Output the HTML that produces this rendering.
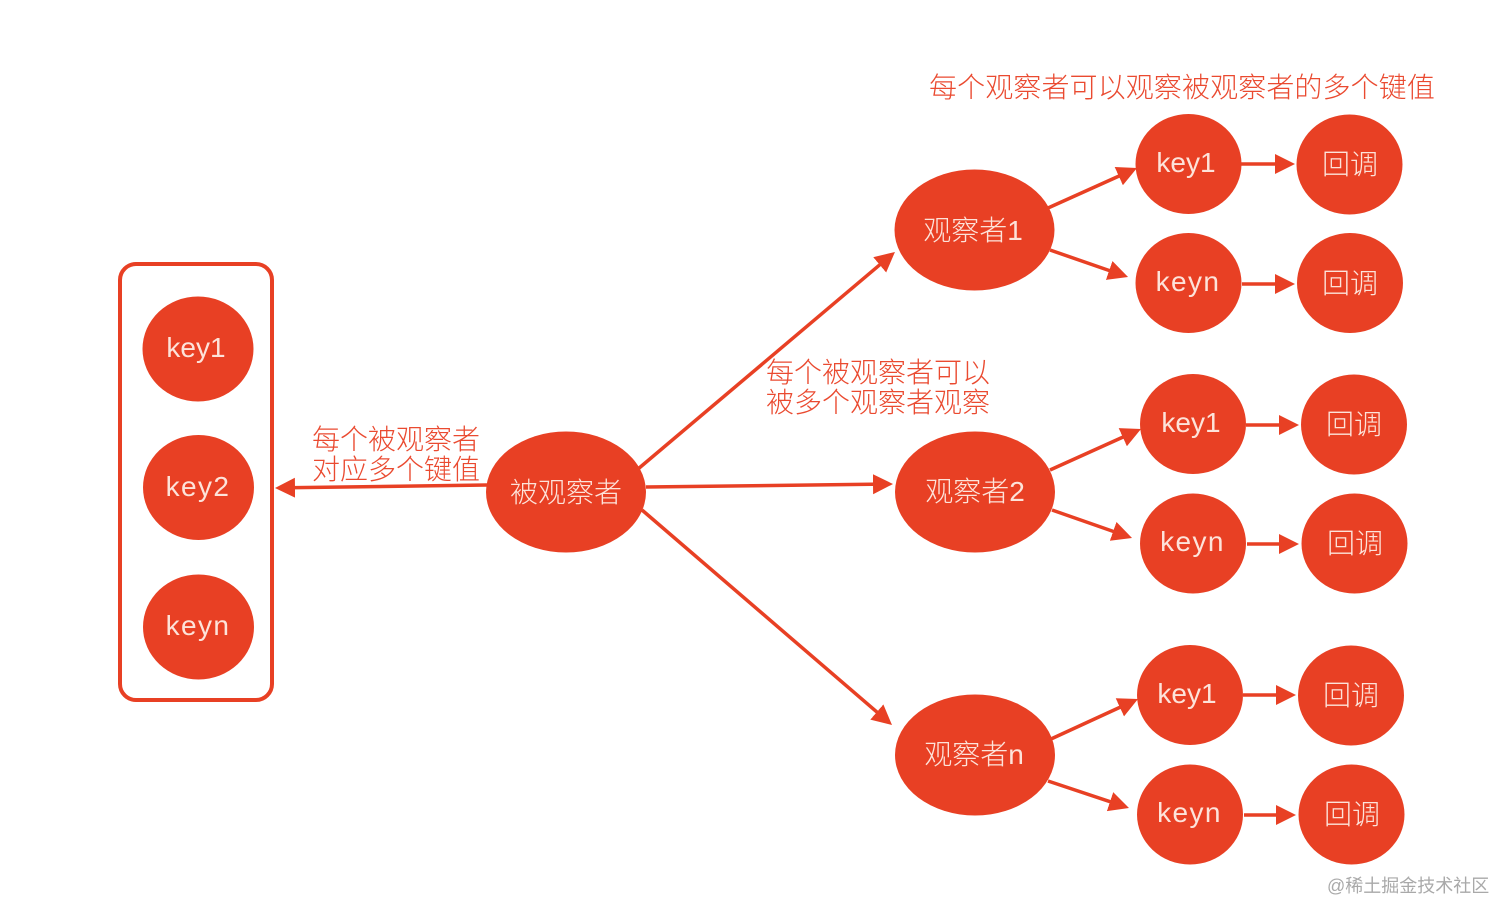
<!DOCTYPE html>
<html><head><meta charset="utf-8"><style>
html,body{margin:0;padding:0;background:#fff;width:1512px;height:921px;overflow:hidden}
svg{display:block}
text{font-family:"Liberation Sans","Noto Sans CJK SC",sans-serif}
.n{fill:#fde3da;font-size:28px;text-anchor:middle;font-weight:300}
.k{letter-spacing:1.4px}
.r{fill:#ea4a30;font-size:28px;font-weight:300}
ellipse{fill:#e84024}
line{stroke:#e84024;stroke-width:3.5}
polygon{fill:#e84024}
</style></head><body>
<svg width="1512" height="921" viewBox="0 0 1512 921">
<defs><marker id="a" markerUnits="userSpaceOnUse" markerWidth="22" markerHeight="22" refX="8" refY="10" orient="auto"><polygon points="0,0 20,10 0,20"/></marker></defs>
<rect x="120" y="264" width="152" height="436" rx="16" fill="none" stroke="#e84024" stroke-width="4"/>
<ellipse cx="198" cy="349" rx="55.5" ry="52.5"/><ellipse cx="198.500" cy="487.500" rx="55.5" ry="52.5"/><ellipse cx="198.500" cy="627" rx="55.5" ry="52.5"/>
<ellipse cx="566" cy="492" rx="80" ry="60.500"/>
<ellipse cx="974.500" cy="230" rx="80" ry="60.500"/><ellipse cx="975" cy="492" rx="80" ry="60.500"/><ellipse cx="975" cy="755" rx="80" ry="60.500"/>
<ellipse cx="1188.500" cy="164" rx="53" ry="50"/><ellipse cx="1349.500" cy="164.500" rx="53" ry="50"/>
<ellipse cx="1188.500" cy="283" rx="53" ry="50"/><ellipse cx="1350" cy="283" rx="53" ry="50"/>
<ellipse cx="1193" cy="424" rx="53" ry="50"/><ellipse cx="1354" cy="424.500" rx="53" ry="50"/>
<ellipse cx="1193" cy="543.500" rx="53" ry="50"/><ellipse cx="1354.500" cy="543.500" rx="53" ry="50"/>
<ellipse cx="1190" cy="695" rx="53" ry="50"/><ellipse cx="1351" cy="695.500" rx="53" ry="50"/>
<ellipse cx="1190" cy="814.500" rx="53" ry="50"/><ellipse cx="1351.500" cy="814.500" rx="53" ry="50"/>
<line x1="487" y1="485" x2="287" y2="487.8" marker-end="url(#a)"/>
<line x1="638" y1="469" x2="885.8" y2="259.7" marker-end="url(#a)"/>
<line x1="646" y1="487" x2="881" y2="484.15" marker-end="url(#a)"/>
<line x1="642" y1="510" x2="882.9" y2="717.2" marker-end="url(#a)"/>
<line x1="1048" y1="208" x2="1126.06" y2="172.9" marker-end="url(#a)"/>
<line x1="1050" y1="250" x2="1116.7" y2="273.1" marker-end="url(#a)"/>
<line x1="1241" y1="164" x2="1283" y2="164" marker-end="url(#a)"/>
<line x1="1242" y1="284" x2="1283" y2="284" marker-end="url(#a)"/>
<line x1="1050" y1="470" x2="1130.06" y2="433.9" marker-end="url(#a)"/>
<line x1="1052" y1="510" x2="1120.7" y2="534" marker-end="url(#a)"/>
<line x1="1246" y1="425" x2="1287" y2="425" marker-end="url(#a)"/>
<line x1="1247" y1="544" x2="1287" y2="544" marker-end="url(#a)"/>
<line x1="1051" y1="739" x2="1127.1" y2="704" marker-end="url(#a)"/>
<line x1="1048" y1="781" x2="1117.6" y2="804.2" marker-end="url(#a)"/>
<line x1="1243" y1="695" x2="1284" y2="695" marker-end="url(#a)"/>
<line x1="1244" y1="815" x2="1284" y2="815" marker-end="url(#a)"/>
<text class="n" x="196" y="357">key1</text><text class="n k" x="198" y="496">key2</text><text class="n k" x="198" y="635">keyn</text>
<text class="n" x="566" y="502">被观察者</text>
<text class="n" x="973" y="240">观察者1</text><text class="n" x="975" y="501">观察者2</text><text class="n" x="974" y="764">观察者n</text>
<text class="n" x="1186" y="172">key1</text><text class="n" x="1350" y="174">回调</text>
<text class="n k" x="1188" y="291">keyn</text><text class="n" x="1350" y="293">回调</text>
<text class="n" x="1191" y="432">key1</text><text class="n" x="1354" y="434">回调</text>
<text class="n k" x="1192.500" y="551">keyn</text><text class="n" x="1355" y="553">回调</text>
<text class="n" x="1187" y="703">key1</text><text class="n" x="1351" y="705">回调</text>
<text class="n k" x="1189.500" y="822">keyn</text><text class="n" x="1352" y="824">回调</text>
<text class="r" x="929" y="97" style="letter-spacing:.11px">每个观察者可以观察被观察者的多个键值</text>
<text class="r" x="766" y="382">每个被观察者可以</text>
<text class="r" x="766" y="412">被多个观察者观察</text>
<text class="r" x="312" y="449">每个被观察者</text>
<text class="r" x="312" y="479">对应多个键值</text>
<text x="1327" y="892" font-size="18" fill="#a9a9a9">@稀土掘金技术社区</text>
</svg>
</body></html>
